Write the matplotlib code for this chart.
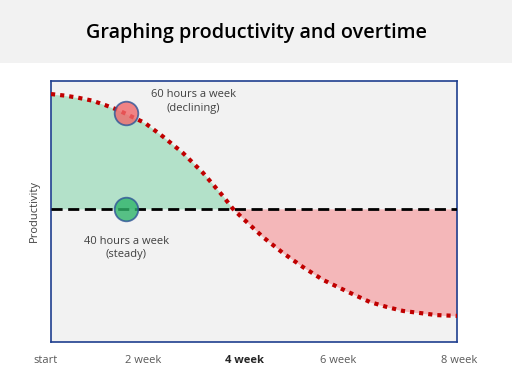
import numpy as np
import matplotlib
matplotlib.use("Agg")
import matplotlib.pyplot as plt
from matplotlib.patches import Rectangle

plt.rcParams['font.family'] = ['Open Sans', 'DejaVu Sans']

# productivity curve for 60 hours a week
weeks = [0, 0.276, 0.532, 0.808, 1.064, 1.320, 1.596, 1.852, 2.207, 2.601, 2.995,
         3.389, 3.586, 3.783, 4.177, 4.571, 4.966, 5.360, 5.852, 6.286, 6.621,
         6.936, 7.271, 7.606, 8.0]
prod_60 = [0.950, 0.944, 0.936, 0.925, 0.908, 0.889, 0.863, 0.839, 0.787, 0.724,
           0.648, 0.559, 0.510, 0.473, 0.402, 0.341, 0.287, 0.238, 0.192, 0.153,
           0.134, 0.119, 0.111, 0.103, 0.100]
prod_40 = 0.51

marker_week = 1.47
marker_60 = 0.877

tick_pos = [-0.1, 1.81, 3.82, 5.66, 8.04]
tick_labels = ["start", "2 week", "4 week", "6 week", "8 week"]

fig = plt.figure(figsize=(5.12, 3.84), dpi=100)
fig.patch.set_facecolor("white")
# title band
fig.patches.append(Rectangle((0, 1 - 63 / 384), 1, 63 / 384, transform=fig.transFigure,
                             facecolor="#f2f2f2", edgecolor="none", zorder=0))
fig.text(0.5, 1 - 33 / 384, "Graphing productivity and overtime", ha="center", va="center",
         fontsize=14.2, fontweight="semibold", color="black")

ax = fig.add_axes([51 / 512, 1 - 342 / 384, 406 / 512, 261 / 384])
ax.set_facecolor("#f2f2f2")

w = np.array(weeks)
p = np.array(prod_60)
ax.fill_between(w, p, prod_40, where=p >= prod_40, interpolate=True,
                color="#b3e1c9", linewidth=0)
ax.fill_between(w, p, prod_40, where=p <= prod_40, interpolate=True,
                color="#f4b7b9", linewidth=0)
ax.axhline(prod_40, color="black", linestyle=(0, (4, 2)), linewidth=2, zorder=3)
ax.plot(w, p, color="#c00000", linestyle=(0, (1, 1.2)), linewidth=3, zorder=4)

ax.plot([marker_week], [marker_60], "o", markersize=17, markerfacecolor="#f0686a",
        markeredgecolor="#2f5597", markeredgewidth=1.3, alpha=0.8, zorder=5)
ax.plot([marker_week], [prod_40], "o", markersize=17, markerfacecolor="#2fb46a",
        markeredgecolor="#2f5597", markeredgewidth=1.3, alpha=0.8, zorder=5)

ax.text(2.81, 0.92, "60 hours a week\n(declining)", ha="center", va="center",
        fontsize=8, color="#404040", linespacing=1.35)
ax.text(1.48, 0.36, "40 hours a week\n(steady)", ha="center", va="center",
        fontsize=8, color="#404040", linespacing=1.35)

ax.set_xlim(0, 8)
ax.set_ylim(0, 1)
ax.set_xticks([])
ax.set_yticks([])
for s in ax.spines.values():
    s.set_color("#1f3f8f")
    s.set_linewidth(1.2)

trans = ax.get_xaxis_transform()
for x, lab in zip(tick_pos, tick_labels):
    bold = lab == "4 week"
    ax.text(x, -0.07, lab, transform=trans, ha="center", va="center", fontsize=8,
            color="#262626" if bold else "#595959",
            fontweight="bold" if bold else "normal", clip_on=False)

ax.set_ylabel("Productivity", fontsize=8, color="#404040", labelpad=8)

fig.savefig("out.png", dpi=100)
